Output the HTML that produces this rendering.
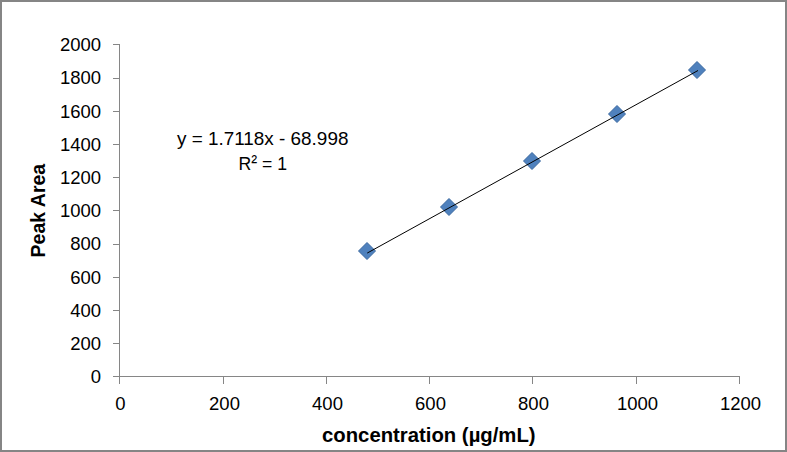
<!DOCTYPE html>
<html><head><meta charset="utf-8">
<style>
html,body{margin:0;padding:0;background:#fff;}
body{width:787px;height:452px;overflow:hidden;position:relative;}
svg{position:absolute;left:0;top:0;}
text{font-family:"Liberation Sans",sans-serif;fill:#000;}
.yl{font-size:18.5px;text-anchor:end;}
.xl{font-size:18.5px;text-anchor:middle;}
.eq{font-size:19px;}
.tt{font-size:20px;font-weight:bold;}
</style></head>
<body>
<svg width="787" height="452" viewBox="0 0 787 452">
<rect x="1" y="1" width="785" height="450" fill="#fff" stroke="#858585" stroke-width="2"/>
<g stroke="#868686" stroke-width="1" fill="none" shape-rendering="crispEdges">
<path d="M119.5 44 V384"/>
<path d="M113 376.5 H740"/>
<path d="M113 44.5 H119 M113 78.5 H119 M113 111.5 H119 M113 144.5 H119 M113 177.5 H119 M113 210.5 H119 M113 244.5 H119 M113 277.5 H119 M113 310.5 H119 M113 343.5 H119"/>
<path d="M223.5 377 V384 M326.5 377 V384 M429.5 377 V384 M532.5 377 V384 M636.5 377 V384 M739.5 376 V384"/>
</g>
<g class="yl">
<text x="101.1" y="51">2000</text>
<text x="101.1" y="84">1800</text>
<text x="101.1" y="118">1600</text>
<text x="101.1" y="151">1400</text>
<text x="101.1" y="184">1200</text>
<text x="101.1" y="217">1000</text>
<text x="101.1" y="250">800</text>
<text x="101.1" y="284">600</text>
<text x="101.1" y="317">400</text>
<text x="101.1" y="350">200</text>
<text x="101.1" y="383">0</text>
</g>
<g class="xl">
<text x="120.5" y="410">0</text>
<text x="224.5" y="410">200</text>
<text x="327.5" y="410">400</text>
<text x="430.5" y="410">600</text>
<text x="533.5" y="410">800</text>
<text x="637.5" y="410">1000</text>
<text x="740.5" y="410">1200</text>
</g>
<g fill="#4F81BD" stroke="#3A68A0" stroke-width="1">
<path d="M367 242.5 L375.5 251 L367 259.5 L358.5 251 Z"/>
<path d="M449 198.5 L457.5 207 L449 215.5 L440.5 207 Z"/>
<path d="M532 152.5 L540.5 161 L532 169.5 L523.5 161 Z"/>
<path d="M617 105.5 L625.5 114 L617 122.5 L608.5 114 Z"/>
<path d="M697 61.5 L705.5 70 L697 78.5 L688.5 70 Z"/>
</g>
<path d="M367.2 253.1 L698 70.5" stroke="#000" stroke-width="1" fill="none"/>
<text class="eq" x="177" y="145" textLength="171.4" lengthAdjust="spacingAndGlyphs">y = 1.7118x - 68.998</text>
<text class="eq" x="238.6" y="170" textLength="48.5" lengthAdjust="spacingAndGlyphs">R<tspan dy="-2.2">²</tspan><tspan dy="2.2"> = 1</tspan></text>
<text class="tt" x="322" y="441.5" textLength="213.6" lengthAdjust="spacingAndGlyphs">concentration (µg/mL)</text>
<text class="tt" transform="translate(45.1 257.4) rotate(-90)" textLength="93.6" lengthAdjust="spacingAndGlyphs">Peak Area</text>
</svg>
</body></html>
